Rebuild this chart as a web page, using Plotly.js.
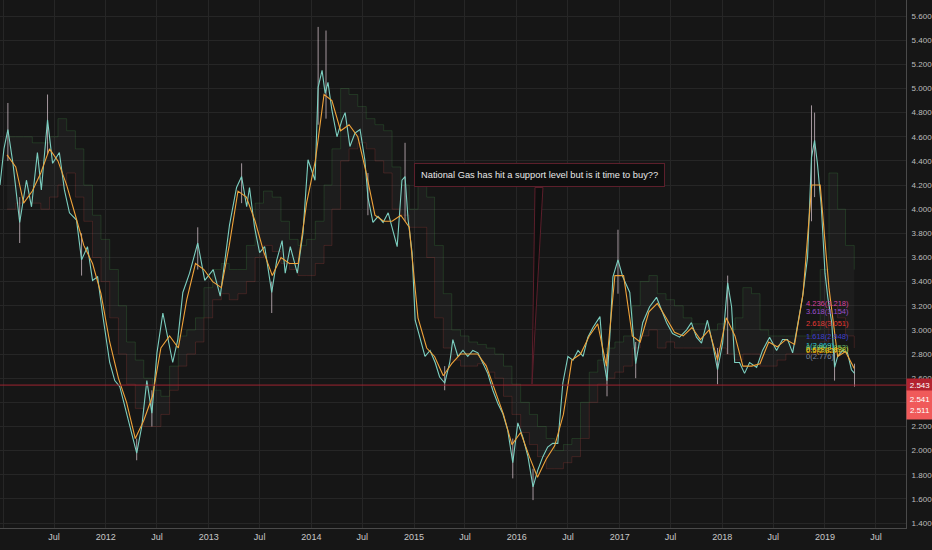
<!DOCTYPE html>
<html>
<head>
<meta charset="utf-8">
<script src="https://cdn.plot.ly/plotly-3.0.1.min.js"></script>
<style>
  html, body { margin: 0; padding: 0; background: #161616; }
  #chart { width: 932px; height: 550px; }
</style>
</head>
<body>
<div id="chart"></div>
<script>
// weekly-ish closes
const priceDates = [
  '2010-12-21','2011-01-04','2011-01-18','2011-02-05','2011-03-01','2011-03-25','2011-04-12','2011-05-03','2011-05-17','2011-06-08',
  '2011-06-26','2011-07-20','2011-08-07','2011-08-25','2011-09-19','2011-10-07','2011-10-28','2011-11-15','2011-12-03','2011-12-20',
  '2012-01-15','2012-02-02','2012-02-20','2012-03-15','2012-04-02','2012-04-20','2012-05-08','2012-05-26','2012-06-13','2012-07-01',
  '2012-07-22','2012-08-05','2012-08-26','2012-09-13','2012-10-01','2012-10-25','2012-11-23','2012-12-18',
  '2013-01-17','2013-02-11','2013-03-16','2013-04-10','2013-04-28','2013-05-16','2013-05-26','2013-06-13','2013-07-01','2013-07-19',
  '2013-08-13','2013-08-31','2013-09-19','2013-09-30','2013-10-18','2013-11-12','2013-12-02','2013-12-20',
  '2014-01-14','2014-01-25','2014-02-08','2014-02-19','2014-03-01','2014-03-15','2014-04-02','2014-04-20','2014-05-01','2014-05-18',
  '2014-06-05','2014-06-23','2014-07-10','2014-07-21','2014-08-08','2014-08-26','2014-09-13','2014-10-01','2014-10-19','2014-11-02',
  '2014-11-19','2014-11-30','2014-12-11','2014-12-25',
  '2015-01-05','2015-01-22','2015-02-09','2015-02-27','2015-03-17','2015-04-02','2015-04-20','2015-05-08','2015-05-19','2015-06-06',
  '2015-06-24','2015-07-11','2015-07-29','2015-08-16','2015-09-02','2015-09-20','2015-10-08','2015-10-26','2015-11-12','2015-11-30','2015-12-18',
  '2016-01-05','2016-01-23','2016-02-10','2016-02-28','2016-03-16','2016-04-03','2016-04-20','2016-05-08','2016-05-26','2016-06-13',
  '2016-07-01','2016-07-19','2016-08-06','2016-08-24','2016-09-10','2016-09-28','2016-10-23','2016-11-03','2016-11-17','2016-11-27',
  '2016-12-08','2016-12-26',
  '2017-01-12','2017-02-06','2017-02-27','2017-03-24','2017-04-17','2017-05-12','2017-05-30','2017-06-17','2017-07-08','2017-08-02',
  '2017-08-27','2017-09-13','2017-10-01','2017-10-19','2017-11-09','2017-11-27','2017-12-15',
  '2018-01-02','2018-01-20','2018-02-03','2018-02-14','2018-03-03','2018-03-21','2018-04-08','2018-05-03','2018-05-24','2018-06-18',
  '2018-07-13','2018-08-03','2018-08-21','2018-09-08','2018-09-26','2018-10-13','2018-10-31','2018-11-14','2018-11-25','2018-12-05','2018-12-19',
  '2019-01-01','2019-01-11','2019-01-25','2019-02-04','2019-02-15','2019-03-05','2019-03-22','2019-04-05','2019-04-16'
]
const closes = [
  4.20,4.50,4.66,4.38,3.89,4.24,4.02,4.47,4.16,4.74,4.38,4.47,4.16,3.97,3.91,3.58,3.69,3.41,3.44,3.14,
  2.73,2.58,2.53,2.31,2.15,1.98,2.20,2.58,2.31,2.81,3.14,2.97,2.73,2.92,3.31,3.47,3.72,3.41,
  3.50,3.28,3.87,4.18,4.27,4.02,4.18,3.85,3.64,3.69,3.31,3.58,3.74,3.47,3.69,3.47,3.80,4.41,
  4.24,5.01,5.15,4.96,5.05,4.82,4.60,4.74,4.80,4.52,4.63,4.66,4.41,4.10,3.89,3.94,3.89,3.97,3.80,3.69,4.24,4.27,3.91,3.64,
  3.08,2.93,2.78,2.83,2.73,2.61,2.56,2.73,2.92,2.78,2.83,2.78,2.83,2.81,2.73,2.64,2.50,2.39,2.31,2.17,1.90,
  2.23,2.11,1.95,1.70,1.84,1.95,2.03,2.06,2.06,2.56,2.78,2.75,2.83,2.78,2.94,3.02,3.11,2.78,2.58,2.94,3.44,3.58,
  3.44,3.31,2.72,3.06,3.19,3.27,3.16,3.06,2.97,2.94,3.00,3.06,2.94,2.89,3.08,2.89,2.67,
  2.89,3.39,3.19,2.73,2.73,2.64,2.73,2.69,2.83,2.94,2.83,2.92,2.92,2.81,3.06,3.27,3.60,4.43,4.57,4.38,4.02,
  3.47,3.27,3.06,2.69,2.78,2.83,2.81,2.67,2.64
]

// candle wicks that stick out
const wickDates = ['2011-01-18','2011-03-01','2011-06-08','2011-10-07','2012-04-20','2012-06-13','2012-11-23','2013-04-28','2013-08-13',
  '2014-01-25','2014-02-22','2014-07-21','2014-11-30','2015-04-20','2015-12-18','2016-02-28','2016-11-17','2016-12-26','2017-02-27',
  '2017-12-15','2018-01-20','2018-11-14','2018-11-25','2019-02-04','2019-04-16']
const wickLow = [4.40,3.72,4.45,3.45,1.92,2.20,3.50,4.05,3.14,4.70,4.75,3.95,3.90,2.50,1.77,1.59,2.45,3.30,2.60,2.55,2.80,3.90,4.10,2.58,2.53]
const wickHigh = [4.88,4.10,4.95,3.80,2.10,2.50,3.85,4.38,3.40,5.51,5.48,4.30,4.55,2.70,2.10,1.85,2.80,3.83,2.90,2.85,3.45,4.86,4.80,2.85,2.72]

// monthly points for the slower line and the cloud
const months = [
  '2011-01-15','2011-02-15','2011-03-15','2011-04-15','2011-05-15','2011-06-15','2011-07-15','2011-08-15','2011-09-15','2011-10-15','2011-11-15','2011-12-15',
  '2012-01-15','2012-02-15','2012-03-15','2012-04-15','2012-05-15','2012-06-15','2012-07-15','2012-08-15','2012-09-15','2012-10-15','2012-11-15','2012-12-15',
  '2013-01-15','2013-02-15','2013-03-15','2013-04-15','2013-05-15','2013-06-15','2013-07-15','2013-08-15','2013-09-15','2013-10-15','2013-11-15','2013-12-15',
  '2014-01-15','2014-02-15','2014-03-15','2014-04-15','2014-05-15','2014-06-15','2014-07-15','2014-08-15','2014-09-15','2014-10-15','2014-11-15','2014-12-15',
  '2015-01-15','2015-02-15','2015-03-15','2015-04-15','2015-05-15','2015-06-15','2015-07-15','2015-08-15','2015-09-15','2015-10-15','2015-11-15','2015-12-15',
  '2016-01-15','2016-02-15','2016-03-15','2016-04-15','2016-05-15','2016-06-15','2016-07-15','2016-08-15','2016-09-15','2016-10-15','2016-11-15','2016-12-15',
  '2017-01-15','2017-02-15','2017-03-15','2017-04-15','2017-05-15','2017-06-15','2017-07-15','2017-08-15','2017-09-15','2017-10-15','2017-11-15','2017-12-15',
  '2018-01-15','2018-02-15','2018-03-15','2018-04-15','2018-05-15','2018-06-15','2018-07-15','2018-08-15','2018-09-15','2018-10-15','2018-11-15','2018-12-15',
  '2019-01-15','2019-02-15','2019-03-15','2019-04-15'
]
const slowLine = [
  4.45,4.35,4.05,4.15,4.30,4.50,4.40,4.20,3.95,3.70,3.55,3.30,
  2.90,2.60,2.40,2.10,2.25,2.45,2.85,2.95,2.85,3.25,3.55,3.50,
  3.40,3.35,3.70,4.15,4.10,3.90,3.65,3.45,3.60,3.55,3.55,4.05,
  4.40,4.95,4.90,4.65,4.70,4.60,4.30,3.95,3.90,3.90,3.95,3.85,
  3.10,2.85,2.78,2.62,2.72,2.80,2.80,2.80,2.70,2.50,2.30,2.05,
  2.15,1.95,1.78,1.93,2.04,2.30,2.75,2.80,2.95,3.05,2.70,3.45,
  3.45,2.95,2.90,3.15,3.22,3.10,2.98,2.95,3.02,2.92,3.00,2.75,
  3.10,2.95,2.70,2.70,2.72,2.90,2.86,2.92,2.88,3.30,4.20,4.20,
  3.35,2.78,2.82,2.68
]
const cloudTop = [
  4.60,4.60,4.60,4.55,4.55,4.60,4.75,4.65,4.50,4.20,3.95,3.75,
  3.50,3.20,2.90,2.75,2.60,2.50,2.45,2.70,2.95,3.00,3.10,3.35,
  3.50,3.55,3.50,3.50,3.70,4.05,4.15,4.10,3.90,3.75,3.70,3.75,
  3.90,4.20,4.50,5.00,4.95,4.85,4.75,4.70,4.65,4.35,4.20,4.00,
  4.20,4.10,3.70,3.30,3.00,2.95,2.90,2.88,2.85,2.80,2.70,2.55,
  2.40,2.30,2.20,2.10,2.00,2.05,2.10,2.40,2.65,2.75,2.85,2.90,
  2.95,3.20,3.40,3.45,3.30,3.25,3.20,3.10,3.05,3.05,3.00,3.05,
  3.00,3.10,3.35,3.30,3.00,2.95,2.95,2.95,2.95,2.95,3.00,3.50,
  4.30,4.00,3.70,3.50
]
const cloudBottom = [
  4.00,4.05,4.10,4.05,4.00,4.10,4.20,4.30,4.10,3.90,3.60,3.40,
  3.10,2.80,2.55,2.35,2.20,2.20,2.30,2.50,2.70,2.80,2.90,3.10,
  3.25,3.30,3.25,3.30,3.40,3.60,3.70,3.65,3.55,3.50,3.45,3.45,
  3.55,3.70,4.00,4.40,4.50,4.55,4.50,4.40,4.30,4.00,3.95,3.85,
  3.85,3.60,3.10,2.85,2.75,2.70,2.70,2.72,2.65,2.60,2.45,2.30,
  2.15,2.05,1.95,1.85,1.85,1.90,1.95,2.10,2.40,2.55,2.60,2.65,
  2.70,2.85,2.95,3.00,2.85,2.90,2.85,2.85,2.85,2.85,2.85,2.85,
  2.80,2.75,2.80,2.80,2.70,2.70,2.75,2.80,2.80,2.80,2.80,2.90,
  3.20,3.10,2.95,2.85
]

const supportLevel = 2.543
const fibLevels = ['4.236','3.618','2.618','1.618','1','0.786','0.618','0.5','0']
const fibPrices = [3.218,3.154,3.051,2.948,2.869,2.852,2.838,2.827,2.776]
const fibColors = ['#d6409f','#9c4dcc','#e53935','#3f3fd0','#26c6da','#66bb6a','#c0ca33','#ffb300','#7e8aa0']
const fibStart = '2018-10-17'

const tickVals = ['2011-01-01','2011-07-01','2012-01-01','2012-07-01','2013-01-01','2013-07-01','2014-01-01','2014-07-01',
  '2015-01-01','2015-07-01','2016-01-01','2016-07-01','2017-01-01','2017-07-01','2018-01-01','2018-07-01','2019-01-01','2019-07-01']
const tickText = ['2011','Jul','2012','Jul','2013','Jul','2014','Jul','2015','Jul','2016','Jul','2017','Jul','2018','Jul','2019','Jul']

const noteText = 'National Gas has hit a support level but is it time to buy??'
const uiFont = 'Liberation Sans, Arial, sans-serif'

let wx = [], wy = []
for (let i = 0; i < wickDates.length; i++) {
    wx.push(wickDates[i], wickDates[i], null)
    wy.push(wickLow[i], wickHigh[i], null)
}

var data = [
    {
        x: months, y: cloudBottom, mode: 'lines', line: { color: 'rgba(239,83,80,0.18)', width: 1, shape: 'hv' },
        hoverinfo: 'skip',
    },
    {
        x: months, y: cloudTop, mode: 'lines', line: { color: 'rgba(76,175,80,0.2)', width: 1, shape: 'hv' },
        fill: 'tonexty', fillcolor: 'rgba(110,110,110,0.08)', hoverinfo: 'skip',
    },
    {
        x: wx, y: wy, mode: 'lines', line: { color: 'rgba(225,205,215,0.7)', width: 1 }, hoverinfo: 'skip',
    },
    {
        x: priceDates, y: closes, mode: 'lines', line: { color: '#7ccfc0', width: 1.1 }, hoverinfo: 'skip',
    },
    {
        x: months, y: slowLine, mode: 'lines', line: { color: '#f0a33a', width: 1.1 }, hoverinfo: 'skip',
    },
]

let notes = [
    {
        xref: 'paper', yref: 'paper', x: 0.5955, y: 0.6686, xanchor: 'center', yanchor: 'middle',
        text: noteText, showarrow: false, borderpad: 6,
        bgcolor: '#0e0e0e', bordercolor: '#5c1f2b', borderwidth: 1,
        font: { family: uiFont, size: 9.3, color: '#e8e8e8' },
    },
    {
        xref: 'paper', yref: 'y', x: 1, y: supportLevel, xanchor: 'left', yanchor: 'middle',
        text: supportLevel.toFixed(3), showarrow: false, width: 26, height: 12, borderpad: 0,
        bgcolor: '#b3232f', font: { family: uiFont, size: 8, color: '#ffffff' },
    },
    {
        xref: 'paper', yref: 'paper', x: 1, y: 0.233, xanchor: 'left', yanchor: 'middle',
        text: '2.541<br>2.511', showarrow: false, width: 26, height: 28, borderpad: 0,
        bgcolor: '#f05a5a', font: { family: uiFont, size: 8, color: '#ffffff' },
    },
]
for (let i = 0; i < fibLevels.length; i++) {
    notes.push({
        x: fibStart, y: fibPrices[i], xanchor: 'left', yanchor: 'middle', showarrow: false,
        text: fibLevels[i] + '(' + fibPrices[i].toFixed(3) + ')',
        font: { family: uiFont, size: 7.5, color: fibColors[i] },
    })
}

var layout = {
    width: 932, height: 550,
    margin: { l: 0, r: 26, t: 0, b: 22 },
    paper_bgcolor: '#161616', plot_bgcolor: '#161616',
    showlegend: false,
    xaxis: {
        type: 'date', range: ['2010-12-21', '2019-10-16'],
        tickvals: tickVals, ticktext: tickText,
        showgrid: true, gridcolor: '#262626', zeroline: false,
        showline: true, linecolor: '#4a4a4a', ticks: '',
        tickfont: { family: uiFont, size: 9, color: '#c8c8c8' },
        fixedrange: true,
    },
    yaxis: {
        side: 'right', range: [1.359, 5.733], dtick: 0.2, tick0: 1.4, tickformat: '.3f',
        showgrid: true, gridcolor: '#262626', zeroline: false,
        showline: true, linecolor: '#4a4a4a', ticks: '', ticklabelstandoff: 3,
        tickfont: { family: uiFont, size: 8, color: '#bdbdbd' },
        fixedrange: true,
    },
    shapes: [
        {
            type: 'line', xref: 'paper', yref: 'y', x0: 0, x1: 1, y0: supportLevel, y1: supportLevel,
            line: { color: '#9e2430', width: 1 },
        },
        {
            type: 'path', xref: 'paper', yref: 'paper',
            path: 'M 0.5905 0.645 L 0.5993 0.645 L 0.5872 0.2727 Z',
            fillcolor: '#0e0e0e', line: { color: '#5c1f2b', width: 1 },
        },
    ],
    annotations: notes,
    hovermode: false,
}

Plotly.newPlot('chart', data, layout, { displayModeBar: false, staticPlot: true })
</script>
</body>
</html>
